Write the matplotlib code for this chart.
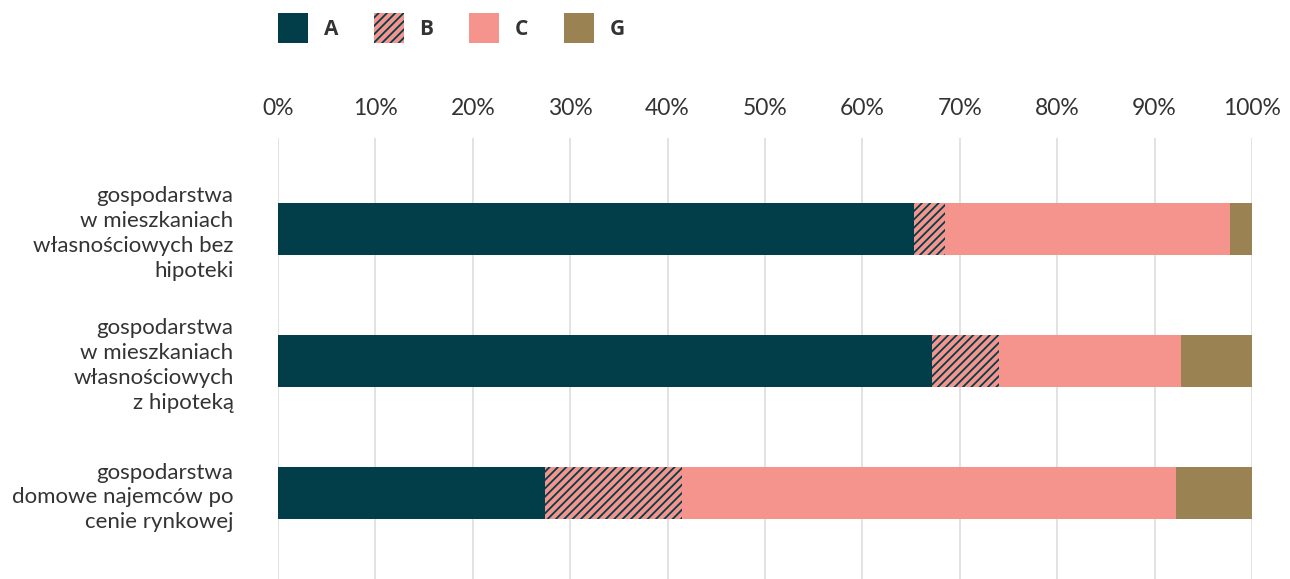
import numpy as np
import matplotlib.pyplot as plt

# udziały (%) w każdej grupie gospodarstw
groups = ['gospodarstwa\nw mieszkaniach\nwłasnościowych bez\nhipoteki',
          'gospodarstwa\nw mieszkaniach\nwłasnościowych\nz hipoteką',
          'gospodarstwa\ndomowe najemców po\ncenie rynkowej']
series = ['A', 'B', 'C', 'G']
val_A = [65.3, 67.1, 27.4]
val_B = [3.2, 6.9, 14.1]
val_C = [29.2, 18.7, 50.7]
val_G = [2.3, 7.3, 7.8]

c_dark = '#023d4a'
c_salmon = '#f4948c'
c_olive = '#9a8253'
txt = '#333333'

plt.rcParams['hatch.linewidth'] = 1.3

fig = plt.figure(figsize=(12.9, 5.79), dpi=100)
ax = fig.add_axes([278/1290, 0, 974/1290, 1 - 138/579])

y = np.arange(len(groups))
h = 0.4
left = np.zeros(len(groups))
bA = ax.barh(y, val_A, h, left=left, color=c_dark, linewidth=0, label='A')
left += val_A
bB = ax.barh(y, val_B, h, left=left, color=c_salmon, edgecolor=c_dark,
             hatch='////', linewidth=0, label='B')
left += val_B
bC = ax.barh(y, val_C, h, left=left, color=c_salmon, linewidth=0, label='C')
left += val_C
bG = ax.barh(y, val_G, h, left=left, color=c_olive, linewidth=0, label='G')

ax.set_xlim(0, 100)
ax.set_ylim(2 + 86/132, -91/132)
ax.set_xticks(np.arange(0, 101, 10))
ax.set_xticklabels([f'{v}%' for v in range(0, 101, 10)])
ax.xaxis.tick_top()
ax.set_yticks(y)
ax.set_yticklabels(groups, ha='right', linespacing=1.3)
ax.tick_params(axis='x', length=0, pad=14, labelsize=16.5, labelcolor=txt)
ax.tick_params(axis='y', length=0, pad=32, labelsize=16, labelcolor=txt)
for lab in ax.get_xticklabels() + ax.get_yticklabels():
    lab.set_family('Lato')
ax.grid(axis='x', color='#dddddd', linewidth=1.2)
ax.set_axisbelow(True)
for s in ax.spines.values():
    s.set_visible(False)

leg = fig.legend(handles=[bA, bB, bC, bG], labels=series, ncol=4,
                 loc='upper left', bbox_to_anchor=(278/1290, 1 - 13/579),
                 frameon=False, borderpad=0, borderaxespad=0,
                 handlelength=1.45, handleheight=1.85, handletextpad=0.75,
                 columnspacing=1.7,
                 prop={'family': 'Open Sans', 'weight': 'bold', 'size': 15})
for t in leg.get_texts():
    t.set_color(txt)

fig.savefig('out.png', dpi=100)
